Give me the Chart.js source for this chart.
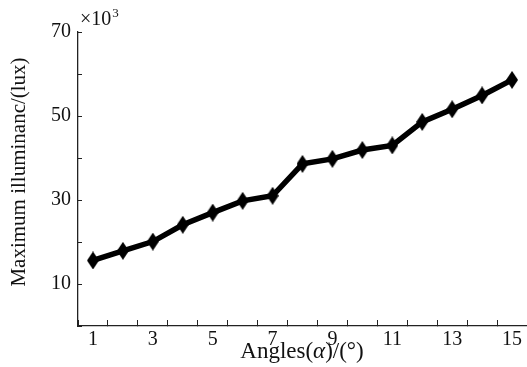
<!DOCTYPE html>
<html>
<head>
<meta charset="utf-8">
<script src="https://cdn.jsdelivr.net/npm/chart.js@4"></script>
<style>
  html, body { margin: 0; padding: 0; background: #fff; }
  #wrap { width: 527px; height: 367px; }
</style>
</head>
<body>
<div id="wrap"><canvas id="chart" width="527" height="367"></canvas></div>
<script>
// data
const angles = ['1', '2', '3', '4', '5', '6', '7', '8', '9', '10', '11', '12', '13', '14', '15'];
const illuminance = [15.6, 17.9, 20.1, 24.1, 27.0, 29.8, 31.0, 38.6, 39.8, 41.9, 43.0, 48.6, 51.6, 54.9, 58.6];
const yTicksShown = [10, 30, 50, 70];

const serif = '"Liberation Serif", "Times New Roman", serif';
const ink = '#111';

// tall diamond marker
const diamond = document.createElement('canvas');
diamond.width = 12;
diamond.height = 18;
const dctx = diamond.getContext('2d');
dctx.fillStyle = '#000';
dctx.beginPath();
dctx.moveTo(6, 0);
dctx.lineTo(12, 9);
dctx.lineTo(6, 18);
dctx.lineTo(0, 9);
dctx.closePath();
dctx.fill();

// axis titles (x one has an italic alpha) and the x10^3 exponent label
const extraText = {
  id: 'extraText',
  afterDraw(chart) {
    const ctx = chart.ctx;
    const area = chart.chartArea;
    ctx.save();
    ctx.fillStyle = ink;
    ctx.textBaseline = 'alphabetic';

    const parts = [
      { t: 'Angles(', f: '23px ' + serif },
      { t: 'α', f: 'italic 23px ' + serif },
      { t: ')/(°)', f: '23px ' + serif }
    ];
    let total = 0;
    parts.forEach(p => { ctx.font = p.f; p.w = ctx.measureText(p.t).width; total += p.w; });
    let x = 302 - total / 2;
    parts.forEach(p => { ctx.font = p.f; ctx.fillText(p.t, x, 358); x += p.w; });

    ctx.font = '20px ' + serif;
    ctx.fillText('×10', area.left + 2, 25);
    const w = ctx.measureText('×10').width;
    ctx.font = '13px ' + serif;
    ctx.fillText('3', area.left + 2 + w + 1, 17);

    // y title
    ctx.translate(19, 172);
    ctx.rotate(-Math.PI / 2);
    ctx.font = '21px ' + serif;
    ctx.textAlign = 'center';
    ctx.textBaseline = 'middle';
    ctx.fillText('Maximum illuminanc/(lux)', 0, 0);
    ctx.restore();
  }
};

new Chart(document.getElementById('chart'), {
  type: 'line',
  data: {
    labels: angles,
    datasets: [{
      data: illuminance,
      borderColor: '#000',
      borderWidth: 5.5,
      tension: 0,
      pointStyle: diamond,
      pointRadius: 9,
      pointBackgroundColor: '#000',
      pointBorderColor: '#000'
    }]
  },
  options: {
    responsive: false,
    animation: false,
    layout: { autoPadding: false, padding: { top: 32, right: 0, left: 0, bottom: 0 } },
    plugins: { legend: { display: false }, tooltip: { enabled: false } },
    scales: {
      x: {
        type: 'category',
        offset: true,
        afterFit: s => { s.height = 41; s.paddingLeft = 0; s.paddingRight = 0; },
        border: { display: true, color: '#222', width: 1.3 },
        grid: { offset: true, drawOnChartArea: false, drawTicks: true, tickLength: -6, color: '#222', lineWidth: 1 },
        ticks: {
          autoSkip: false,
          maxRotation: 0,
          padding: 8,
          color: ink,
          font: { family: serif, size: 20 },
          callback: (v, i) => (i % 2 === 0 ? angles[i] : '')
        }
      },
      y: {
        min: 0,
        max: 70,
        afterFit: s => { s.width = 78; },
        border: { display: true, color: '#222', width: 1.3 },
        grid: { drawOnChartArea: false, drawTicks: true, tickLength: -4, color: '#222', lineWidth: 1 },
        ticks: {
          stepSize: 10,
          padding: 11,
          color: ink,
          font: { family: serif, size: 20 },
          callback: v => (yTicksShown.includes(v) ? String(v) : '')
        }
      }
    }
  },
  plugins: [extraText]
});
</script>
</body>
</html>
